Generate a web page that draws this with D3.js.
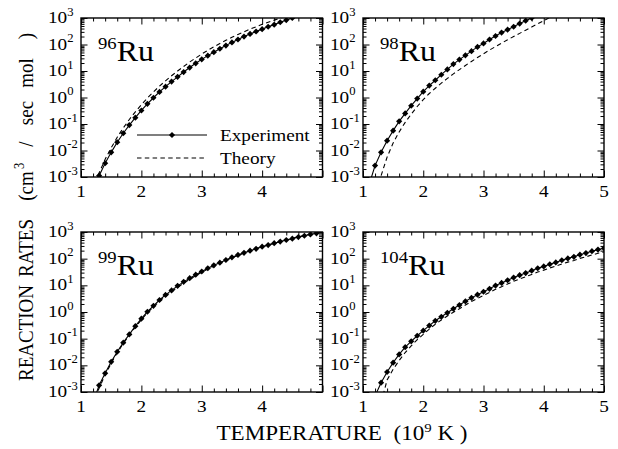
<!DOCTYPE html>
<html>
<head>
<meta charset="utf-8">
<script src="https://cdn.jsdelivr.net/npm/d3@7"></script>
<style>
body { margin: 0; background: #fff; }
svg { display: block; }
text { font-family: "Liberation Serif", "LiberationSerif", "Times New Roman", Times, "DejaVu Serif", serif; white-space: pre; }
</style>
</head>
<body>
<svg width="618" height="449"></svg>
<script>
// reaction rates, stored as log10(rate)
const ru96T   = [1.3,1.4,1.5,1.6,1.7,1.8,1.9,2.0,2.1,2.2,2.3,2.4,2.5,2.6,2.7,2.8,2.9,3.0,3.1,3.2,3.3,3.4,3.5,3.6,3.7,3.8,3.9,4.0,4.1,4.2,4.3,4.4,4.5];
const ru96Exp = [-2.95,-2.48,-2.07,-1.69,-1.35,-1.04,-0.76,-0.49,-0.24,-0.01,0.21,0.41,0.60,0.78,0.96,1.13,1.29,1.44,1.58,1.71,1.84,1.96,2.08,2.19,2.30,2.40,2.49,2.58,2.67,2.75,2.84,2.92,3.00];
const ru96ThT = [1.2,1.3,1.4,1.5,1.6,1.7,1.8,1.9,2.0,2.1,2.2,2.3,2.4,2.5,2.6,2.7,2.8,2.9,3.0,3.1,3.2,3.3,3.4,3.5,3.6,3.7,3.8,3.9,4.0,4.1,4.2,4.3,4.4];
const ru96Th  = [-3.5,-2.85,-2.33,-1.90,-1.50,-1.15,-0.83,-0.54,-0.27,-0.02,0.21,0.43,0.63,0.82,1.00,1.17,1.34,1.49,1.64,1.78,1.91,2.04,2.16,2.27,2.38,2.48,2.58,2.67,2.76,2.84,2.92,3.00,3.08];

const ru98T   = [1.1,1.2,1.3,1.4,1.5,1.6,1.7,1.8,1.9,2.0,2.1,2.2,2.3,2.4,2.5,2.6,2.7,2.8,2.9,3.0,3.1,3.2,3.3,3.4,3.5,3.6,3.7,3.8];
const ru98Exp = [-3.3,-2.57,-2.07,-1.63,-1.25,-0.90,-0.60,-0.31,-0.04,0.22,0.45,0.65,0.86,1.06,1.26,1.43,1.59,1.75,1.91,2.04,2.19,2.32,2.45,2.56,2.67,2.79,2.90,3.00];
const ru98ThT = [1.2,1.3,1.4,1.5,1.6,1.7,1.8,1.9,2.0,2.1,2.2,2.3,2.4,2.5,2.6,2.7,2.8,2.9,3.0,3.1,3.2,3.3,3.4,3.5,3.6,3.7,3.8,3.9,4.0,4.1];
const ru98Th  = [-3.8,-2.95,-2.25,-1.72,-1.30,-0.94,-0.63,-0.34,-0.08,0.15,0.35,0.54,0.72,0.89,1.05,1.21,1.36,1.51,1.65,1.79,1.92,2.05,2.18,2.30,2.42,2.54,2.66,2.78,2.90,3.02];

const ru99T   = [1.2,1.3,1.4,1.5,1.6,1.7,1.8,1.9,2.0,2.1,2.2,2.3,2.4,2.5,2.6,2.7,2.8,2.9,3.0,3.1,3.2,3.3,3.4,3.5,3.6,3.7,3.8,3.9,4.0,4.1,4.2,4.3,4.4,4.5,4.6,4.7,4.8,4.9];
const ru99Exp = [-3.4,-2.75,-2.30,-1.87,-1.49,-1.15,-0.84,-0.53,-0.25,0.01,0.23,0.45,0.64,0.81,0.98,1.13,1.27,1.40,1.52,1.64,1.75,1.85,1.95,2.05,2.14,2.22,2.30,2.37,2.45,2.51,2.58,2.64,2.70,2.75,2.81,2.86,2.91,2.95];
const ru99ThT = [1.2,1.3,1.4,1.5,1.6,1.7,1.8,1.9,2.0,2.1,2.2,2.3,2.4,2.5,2.6,2.7,2.8,2.9,3.0,3.1,3.2,3.3,3.4,3.5,3.6,3.7,3.8,3.9,4.0,4.1,4.2,4.3,4.4,4.5,4.6,4.7,4.8,4.9,5.0];
const ru99Th  = [-3.5,-2.85,-2.36,-1.92,-1.53,-1.18,-0.87,-0.57,-0.29,-0.03,0.19,0.40,0.59,0.76,0.93,1.08,1.23,1.36,1.49,1.61,1.72,1.83,1.93,2.03,2.12,2.21,2.29,2.37,2.44,2.51,2.58,2.64,2.70,2.76,2.82,2.87,2.93,2.98,3.03];

const ru104T   = [1.2,1.3,1.4,1.5,1.6,1.7,1.8,1.9,2.0,2.1,2.2,2.3,2.4,2.5,2.6,2.7,2.8,2.9,3.0,3.1,3.2,3.3,3.4,3.5,3.6,3.7,3.8,3.9,4.0,4.1,4.2,4.3,4.4,4.5,4.6,4.7,4.8,4.9,5.0];
const ru104Exp = [-3.15,-2.65,-2.25,-1.90,-1.59,-1.32,-1.10,-0.89,-0.70,-0.51,-0.33,-0.18,-0.03,0.12,0.26,0.40,0.53,0.65,0.76,0.87,0.99,1.09,1.19,1.29,1.38,1.46,1.55,1.64,1.71,1.79,1.86,1.94,2.01,2.07,2.15,2.21,2.28,2.34,2.39];
const ru104ThT = [1.3,1.4,1.5,1.6,1.7,1.8,1.9,2.0,2.1,2.2,2.3,2.4,2.5,2.6,2.7,2.8,2.9,3.0,3.1,3.2,3.3,3.4,3.5,3.6,3.7,3.8,3.9,4.0,4.1,4.2,4.3,4.4,4.5,4.6,4.7,4.8,4.9,5.0];
const ru104Th  = [-3.4,-2.55,-2.15,-1.82,-1.52,-1.27,-1.04,-0.84,-0.64,-0.46,-0.30,-0.15,-0.01,0.12,0.26,0.39,0.51,0.62,0.73,0.85,0.95,1.05,1.15,1.24,1.32,1.41,1.50,1.57,1.65,1.72,1.80,1.87,1.93,2.01,2.07,2.14,2.20,2.25];

const yExponents = [-3, -2, -1, 0, 1, 2, 3];

const svg = d3.select("svg")
  .attr("font-family", "'Liberation Serif', 'Times New Roman', serif");
const SX = 1.1; // the figure's lettering is a little wider than normal

const panels = [
  { mass: "96",  left: 81,  top: 18,  right: 322.5, bottom: 177, t: ru96T,  exp: ru96Exp,  thT: ru96ThT,  th: ru96Th,  xLabels: [1,2,3,4],   legend: true },
  { mass: "98",  left: 363, top: 18,  right: 604,   bottom: 177, t: ru98T,  exp: ru98Exp,  thT: ru98ThT,  th: ru98Th,  xLabels: [1,2,3,4,5] },
  { mass: "99",  left: 81,  top: 232, right: 322.5, bottom: 392, t: ru99T,  exp: ru99Exp,  thT: ru99ThT,  th: ru99Th,  xLabels: [1,2,3,4] },
  { mass: "104", left: 363, top: 232, right: 604,   bottom: 392, t: ru104T, exp: ru104Exp, thT: ru104ThT, th: ru104Th, xLabels: [1,2,3,4,5] }
];

const marker = d3.symbol().type(d3.symbolSquare).size(19);

// stretched text helper
function stext(g, x, y, anchor, size) {
  return g.append("text")
    .attr("transform", "translate(" + x + "," + y + ") scale(" + SX + ",1)")
    .attr("text-anchor", anchor)
    .attr("font-size", size);
}

panels.forEach((p, i) => {
  const x = d3.scaleLinear().domain([1, 5]).range([p.left, p.right]);
  const y = d3.scaleLog().domain([1e-3, 1e3]).range([p.bottom, p.top]);
  const g = svg.append("g");

  // ticks, pointing into the frame
  const xMinor = x.ticks(20).filter(d => Math.abs(d - Math.round(d)) > 1e-6);
  const xMajor = x.ticks(4);
  const yAll = y.ticks();
  const yMajor = yAll.filter(d => Math.abs(Math.log10(d) - Math.round(Math.log10(d))) < 1e-6);
  const yMinor = yAll.filter(d => !yMajor.includes(d));

  const tickSets = [
    [d3.axisBottom(x).tickValues(xMinor).tickSize(-3.5), "translate(0," + p.bottom + ")"],
    [d3.axisBottom(x).tickValues(xMajor).tickSize(-6.5), "translate(0," + p.bottom + ")"],
    [d3.axisTop(x).tickValues(xMinor).tickSize(-3.5), "translate(0," + p.top + ")"],
    [d3.axisTop(x).tickValues(xMajor).tickSize(-6.5), "translate(0," + p.top + ")"],
    [d3.axisLeft(y).tickValues(yMinor).tickSize(-3.5), "translate(" + p.left + ",0)"],
    [d3.axisLeft(y).tickValues(yMajor).tickSize(-6.5), "translate(" + p.left + ",0)"],
    [d3.axisRight(y).tickValues(yMinor).tickSize(-3.5), "translate(" + p.right + ",0)"],
    [d3.axisRight(y).tickValues(yMajor).tickSize(-6.5), "translate(" + p.right + ",0)"]
  ];
  tickSets.forEach(([ax, tr]) => {
    const a = g.append("g").attr("transform", tr).call(ax.tickFormat(""));
    a.attr("font-family", null);
    a.select(".domain").remove();
    a.selectAll("line").attr("stroke", "#000").attr("stroke-width", 1);
  });

  // frame
  g.append("rect")
    .attr("x", p.left).attr("y", p.top)
    .attr("width", p.right - p.left).attr("height", p.bottom - p.top)
    .attr("fill", "none").attr("stroke", "#000").attr("stroke-width", 1.4);

  // x tick labels
  p.xLabels.forEach(v => {
    stext(g, x(v), p.bottom + 20, "middle", 17.5).attr("fill", "#000").text(v);
  });

  // y tick labels 10^n
  yExponents.forEach(e => {
    const t = stext(g, p.left - 33, y(Math.pow(10, e)) + 5, "start", 17.5);
    t.append("tspan").text("10");
    t.append("tspan").attr("dy", -7.5).attr("font-size", 11.5).text(e < 0 ? "-" + (-e) : e);
  });

  // isotope label
  const lab = stext(g, p.left + 17, p.top + 43, "start", 29);
  lab.append("tspan").attr("font-size", 17).attr("dy", -12).text(p.mass);
  lab.append("tspan").attr("dy", 12).text("Ru");

  // clipped data area
  const clipId = "clip" + i;
  svg.append("clipPath").attr("id", clipId)
    .append("rect")
    .attr("x", p.left).attr("y", p.top)
    .attr("width", p.right - p.left).attr("height", p.bottom - p.top);
  const plot = g.append("g").attr("clip-path", "url(#" + clipId + ")");

  const line = d3.line().x(d => x(d[0])).y(d => y(Math.pow(10, d[1])));
  const expPts = p.t.map((t, k) => [t, p.exp[k]]);
  const thPts = p.thT.map((t, k) => [t, p.th[k]]);

  plot.append("path")
    .attr("d", line(thPts))
    .attr("fill", "none").attr("stroke", "#000").attr("stroke-width", 1.1)
    .attr("stroke-dasharray", "4.5,3.3");

  plot.append("path")
    .attr("d", line(expPts))
    .attr("fill", "none").attr("stroke", "#000").attr("stroke-width", 1.1);

  plot.selectAll(".pt")
    .data(expPts)
    .enter().append("path")
    .attr("class", "pt")
    .attr("d", marker)
    .attr("transform", d => "translate(" + x(d[0]) + "," + y(Math.pow(10, d[1])) + ") rotate(45)")
    .attr("fill", "#000");

  if (p.legend) {
    const lg = svg.append("g");
    lg.append("line").attr("x1", 137).attr("x2", 207).attr("y1", 135).attr("y2", 135)
      .attr("stroke", "#000").attr("stroke-width", 1.1);
    lg.append("path").attr("d", marker).attr("transform", "translate(172,135) rotate(45)").attr("fill", "#000");
    lg.append("line").attr("x1", 137).attr("x2", 207).attr("y1", 158).attr("y2", 158)
      .attr("stroke", "#000").attr("stroke-width", 1.1).attr("stroke-dasharray", "4.5,3.3");
    stext(lg, 220, 140.5, "start", 17.5).text("Experiment");
    stext(lg, 220, 163.5, "start", 17.5).text("Theory");
  }
});

// axis titles
const xt = stext(svg, 342, 440, "middle", 21);
xt.append("tspan").text("TEMPERATURE  (10");
xt.append("tspan").attr("dy", -8.5).attr("font-size", 13.5).text("9");
xt.append("tspan").attr("dy", 8.5).text(" K )");

// y title, words spread out the way the original is set
const yTitleParts = [
  { s: "REACTION", c: 333 },
  { s: "RATES", c: 248 },
  { s: "(cm", c: 186 },
  { s: "/", c: 144 },
  { s: "sec", c: 113 },
  { s: "mol", c: 73 },
  { s: ")", c: 36 }
];
yTitleParts.forEach(d => {
  svg.append("text")
    .attr("transform", "translate(33," + d.c + ") rotate(-90) scale(1," + SX + ")")
    .attr("text-anchor", "middle")
    .attr("font-size", 19)
    .text(d.s);
});
svg.append("text")
  .attr("transform", "translate(24,166) rotate(-90) scale(1," + SX + ")")
  .attr("text-anchor", "middle")
  .attr("font-size", 12.5)
  .text("3");
</script>
</body>
</html>
